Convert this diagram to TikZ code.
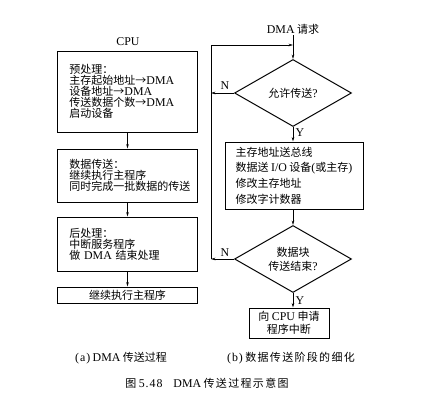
\documentclass[tikz,border=0pt]{standalone}
\usepackage{fontspec}
\setmainfont{Noto Sans CJK SC}
\newfontfamily\latf[Scale=1.08]{Liberation Serif}
\newfontfamily\cjkwide[LetterSpace=12]{Noto Sans CJK SC}
\newfontfamily\latwide[Scale=1.08,LetterSpace=8]{Liberation Serif}
\newcommand\lt[1]{{\latf #1}}
\usetikzlibrary{shapes.geometric,arrows.meta}
\begin{document}
\begin{tikzpicture}[x=1pt,y=-1pt,
  every node/.style={font=\fontsize{11}{11}\selectfont},
  lbox/.style={draw, line width=1pt, rectangle, text width=116pt, inner xsep=12pt, inner ysep=0pt, align=left, font=\fontsize{11}{11}\selectfont},
  rbox/.style={draw, line width=1pt, rectangle, inner sep=0pt, align=left, font=\fontsize{11}{15.7}\selectfont},
  cbox/.style={draw, line width=1pt, rectangle, inner sep=0pt, align=center, font=\fontsize{11}{13}\selectfont},
  dia/.style={draw, line width=1pt, diamond, inner sep=0pt, minimum width=117pt, minimum height=67pt, aspect=1.75, align=center, font=\fontsize{11}{14}\selectfont},
  lab/.style={font=\latf\fontsize{11}{11}\selectfont, inner sep=0pt},
  arr/.style={-{Stealth[length=4.5pt,width=2.6pt]}, line width=0.75pt}]
\useasboundingbox (0,0) rectangle (424,402);

% ---- left: (a)
\node[lab] (cpu) at (128,42) {CPU};
\node[lbox, minimum height=81pt] (b1) at (127.5,91.5)
  {预处理：\\主存起始地址→\lt{DMA}\\设备地址→\lt{DMA}\\传送数据个数→\lt{DMA}\\启动设备};
\node[lbox, minimum height=53pt] (b2) at (127.5,175.5)
  {数据传送：\\继续执行主程序\\同时完成一批数据的传送};
\node[lbox, minimum height=54pt] (b3) at (127.5,244)
  {后处理：\\中断服务程序\\做 \lt{DMA} 结束处理};
\node[cbox, minimum width=140pt, minimum height=16pt] (b4) at (127.5,295)
  {继续执行主程序};
\draw[arr] (b1.south) -- (b2.north);
\draw[arr] (b2.south) -- (b3.north);
\draw[arr] (b3.south) -- (b4.north);

% ---- right: (b)
\node[inner sep=1pt] (req) at (293,29) {\lt{DMA} 请求};
\node[dia] (d1) at (293,93) {允许传送\lt{?}};
\node[rbox, minimum width=138pt, minimum height=67pt] (b5) at (294,175.5)
  {主存地址送总线\\数据送 \lt{I/O} 设备\lt{(}或主存\lt{)}\\修改主存地址\\修改字计数器};
\node[dia] (d2) at (293,259) {数据块\\传送结束\lt{?}};
\node[cbox, minimum width=80pt, minimum height=30pt] (b6) at (289,323)
  {向 \lt{CPU} 申请\\程序中断};
\coordinate (fl) at (211,45);

\draw[arr] (req.south) -- (d1.north);
\draw[arr] (d1.south) -- (d1.south |- b5.north);
\draw[arr] (d1.south |- b5.south) -- (d2.north);
\draw[arr] (d2.south) -- (d2.south |- b6.north);
\draw[arr] (d1.west) -- (d1.west -| fl);
\draw[arr] (d2.west) -- (d2.west -| fl);
\draw[arr] (d2.west -| fl) -- (fl) -- (fl -| d1.north);

\node[lab] (n1) at (225,86) {N};
\node[lab] (y1) at (300,133) {Y};
\node[lab] (n2) at (225,253) {N};
\node[lab] (y2) at (300,301) {Y};

% ---- captions
\node (capa) at (121,358) {{\latwide(a)}\ \lt{DMA} 传送过程};
\node (capb) at (291,358) {{\latwide(b)}\ {\cjkwide 数据传送阶段的细化}};
\node (cap) at (207,383) {{\cjkwide 图} {\latwide 5.48}\quad \lt{DMA} {\cjkwide 传送过程示意图}};
\end{tikzpicture}
\end{document}
